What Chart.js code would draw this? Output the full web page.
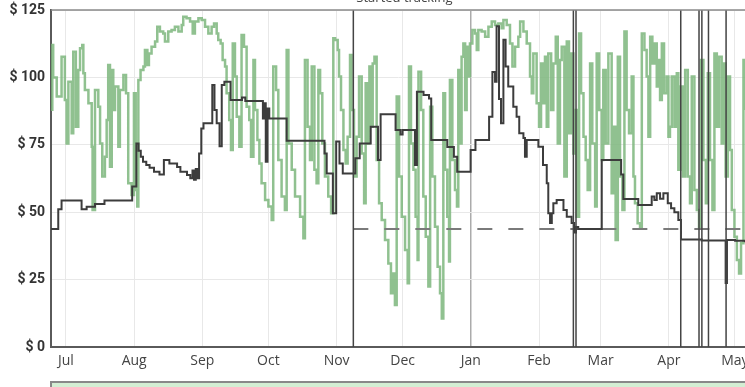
<!DOCTYPE html>
<html>
<head>
<meta charset="utf-8">
<script src="https://cdn.jsdelivr.net/npm/chart.js@4/dist/chart.umd.min.js"></script>
<style>
  html, body { margin: 0; padding: 0; background: #fff; overflow: hidden; }
  #wrap { position: relative; width: 745px; height: 387px; }
  #legend-box {
    position: absolute; left: 50px; top: 381px; width: 720px; height: 20px;
    background: #d3eed3; border: 2px solid #888; box-sizing: border-box;
  }
</style>
</head>
<body>
<div id="wrap">
  <canvas id="chart-price" width="745" height="378"></canvas>
  <div id="legend-box"></div>
</div>
<script>
// x values are days counted from Jul 1
const monthStarts = [0, 31, 62, 92, 123, 153, 184, 215, 243, 274, 304];
const monthLabels = ['Jul', 'Aug', 'Sep', 'Oct', 'Nov', 'Dec', 'Jan', 'Feb', 'Mar', 'Apr', 'May'];
const yearStart = 184;
const dayMin = -6.8;
const dayMax = 308.6;

const priceTicks = [0, 25, 50, 75, 100, 125];

const trackingStart = 130.6;
const trackingLabel = 'Started tracking';
const referencePrice = 43.8;

const markerDays = [230.6, 231.8, 279.4, 287.7, 289.0, 292.0, 300.0];

// green price history [day, $]
const greenHistory = [
  [-6.8, 88], [-6.2, 112], [-5.8, 100], [-4.2, 92.9], [-2.0, 107.7], [-0.5, 91.6], [0.3, 75.5], [1.1, 98.4],
  [2.6, 79.3], [3.3, 109.5], [4.5, 81.7], [5.6, 102.7], [6.4, 110.8], [7.4, 112.0], [7.9, 101.5], [8.6, 95.3],
  [10.2, 90.4], [11.7, 74.3], [12.1, 50.8], [13.2, 95.3], [14.7, 89.1], [15.5, 75.5], [16.5, 63.2], [17.7, 70.6],
  [18.5, 84.2], [19.2, 104.6], [20.0, 66.9], [20.8, 102.7], [21.5, 87.9], [22.3, 96.6], [23.8, 74.3], [24.5, 95.3],
  [26.1, 100.9], [27.3, 94.1], [28.3, 60.7], [29.8, 56.4], [30.9, 94.1], [31.7, 58.2], [32.4, 52.1], [32.9, 99.0],
  [33.9, 102.7], [35.2, 104.0], [35.9, 110.2], [37.0, 104.6], [37.7, 108.9], [38.9, 111.4], [40.5, 113.3], [41.5, 118.8],
  [42.7, 117.0], [44.2, 116.3], [45.0, 113.3], [46.5, 117.0], [48.0, 117.6], [49.5, 118.8], [51.1, 117.0], [52.6, 119.4],
  [53.3, 122.5], [54.8, 121.9], [56.4, 120.7], [57.6, 116.3], [58.6, 120.7], [60.2, 121.9], [61.7, 121.3], [63.2, 118.8],
  [64.7, 116.3], [66.2, 118.8], [67.3, 120.0], [68.5, 116.3], [69.2, 113.9], [70.3, 112.6], [71.2, 106.5], [72.3, 104.0],
  [73.0, 94.1], [74.2, 84.2], [75.0, 73.1], [75.8, 112.6], [76.8, 100.3], [77.6, 85.4], [78.8, 74.3], [79.8, 115.7],
  [80.9, 111.4], [82.1, 89.1], [83.3, 84.2], [84.1, 70.6], [85.2, 106.5], [85.9, 87.9], [87.0, 76.8], [87.9, 68.1],
  [88.9, 60.7], [90.5, 54.5], [92.0, 52.1], [93.5, 47.1], [94.2, 104.0], [95.5, 95.3], [96.5, 69.4], [98.0, 55.8],
  [99.5, 50.8], [100.3, 110.2], [101.1, 75.5], [102.6, 65.7], [104.1, 55.8], [106.4, 48.3], [107.9, 40.3], [108.6, 106.5],
  [109.8, 81.7], [110.9, 69.4], [111.7, 104.0], [112.9, 65.7], [113.9, 60.7], [114.7, 102.7], [115.5, 94.1], [116.5, 75.5],
  [117.7, 63.2], [119.2, 55.8], [120.5, 49.6], [121.5, 114.5], [122.3, 113.9], [123.5, 110.2], [124.1, 100.3], [125.0, 87.9],
  [126.1, 73.1], [127.1, 68.1], [128.0, 78.0], [129.1, 108.3], [129.8, 87.9], [130.9, 63.2], [132.1, 78.0], [133.2, 100.3],
  [134.4, 71.8], [135.5, 53.3], [136.2, 97.8], [137.1, 75.5], [137.9, 104.0], [138.6, 81.7], [139.4, 105.2], [140.2, 107.7],
  [141.2, 69.4], [142.3, 53.3], [143.5, 47.1], [145.0, 39.7], [146.5, 31.0], [147.7, 19.9], [148.8, 27.3], [149.5, 15.6],
  [150.3, 92.9], [151.4, 63.2], [152.6, 48.3], [154.1, 36.0], [155.3, 23.6], [155.9, 104.0], [156.8, 75.5], [157.9, 65.7],
  [158.9, 48.3], [159.8, 32.3], [160.2, 102.1], [161.4, 87.9], [162.4, 55.8], [163.5, 40.9], [164.7, 22.4], [165.5, 89.1],
  [166.5, 63.2], [167.7, 44.6], [168.9, 29.8], [170.0, 19.9], [170.8, 10.6], [171.5, 94.1], [172.3, 65.7], [173.3, 48.3],
  [174.1, 31.7], [174.5, 99.0], [175.6, 69.4], [176.8, 58.2], [177.7, 52.1], [178.3, 102.7], [179.1, 75.5], [179.8, 107.7],
  [180.6, 112.6], [181.4, 87.9], [182.1, 111.4], [182.9, 100.3], [183.6, 112.6], [184.7, 117.6], [185.9, 116.3], [186.7, 110.2],
  [187.4, 117.6], [188.9, 117.0], [190.5, 115.1], [192.0, 118.8], [193.5, 120.7], [195.0, 119.4], [196.5, 120.0], [198.0, 118.2],
  [198.8, 121.3], [200.3, 119.4], [201.8, 112.6], [202.9, 104.0], [204.1, 111.4], [205.6, 115.1], [206.4, 120.7], [207.9, 117.0],
  [209.4, 112.6], [210.9, 100.3], [211.7, 94.1], [212.4, 108.9], [213.9, 90.4], [215.0, 81.7], [215.9, 105.2], [217.0, 90.4],
  [217.7, 107.7], [218.5, 81.7], [219.2, 108.9], [220.5, 87.9], [221.5, 105.2], [222.6, 115.1], [223.5, 75.5], [224.5, 106.5],
  [225.3, 111.4], [226.5, 63.2], [227.6, 113.3], [228.6, 79.3], [229.5, 108.9], [230.6, 71.8], [231.4, 87.9], [232.1, 48.3],
  [233.2, 116.3], [234.1, 94.1], [235.2, 78.0], [236.2, 69.4], [237.1, 58.2], [238.2, 105.2], [239.2, 75.5], [240.5, 52.1],
  [241.2, 108.9], [242.3, 87.9], [243.5, 69.4], [244.2, 102.7], [245.3, 75.5], [246.5, 108.9], [248.0, 57.0], [248.8, 81.7],
  [249.8, 39.7], [250.8, 107.7], [251.8, 63.2], [252.9, 50.8], [253.8, 117.0], [254.8, 87.9], [255.9, 79.3], [257.1, 100.3],
  [257.9, 63.2], [258.6, 53.3], [259.8, 45.9], [260.9, 44.6], [261.7, 116.3], [262.9, 110.2], [263.9, 100.3], [264.7, 78.0],
  [265.5, 115.1], [266.5, 105.2], [267.4, 112.6], [268.5, 96.6], [269.2, 106.5], [270.0, 91.6], [270.8, 112.6], [271.8, 94.1],
  [273.0, 100.3], [273.8, 78.0], [274.5, 81.7], [275.3, 100.3], [276.5, 81.7], [277.6, 101.5], [278.3, 65.7], [279.4, 96.6],
  [280.3, 63.2], [281.4, 102.7], [282.6, 63.2], [283.6, 53.3], [284.4, 100.3], [285.6, 58.2], [286.7, 50.8], [287.7, 44.6],
  [288.6, 106.5], [289.7, 69.4], [290.8, 53.3], [291.7, 101.5], [292.7, 69.4], [293.8, 50.8], [294.7, 108.9], [295.8, 81.7],
  [296.8, 107.7], [298.0, 75.5], [298.8, 105.2], [299.8, 63.2], [300.8, 100.3], [301.8, 73.1], [302.6, 50.8], [303.8, 40.9],
  [304.9, 32.3], [305.9, 27.3], [306.8, 38.5], [307.9, 106.5], [308.6, 87.9],
];

// dark (stepped) price history [day, $]
const darkHistory = [
  [-6.8, 43.8], [-3.5, 51.1], [-2.0, 54.3], [7.1, 51.1], [9.4, 52.0], [13.2, 53.0], [17.5, 54.3], [30.1, 59.5],
  [32.0, 75.5], [33.0, 72.8], [34.0, 70.6], [35.0, 68.7], [36.5, 67.5], [38.0, 66.5], [40.0, 65.0], [42.5, 64.0],
  [44.5, 69.4], [47.0, 68.1], [50.5, 66.8], [52.0, 65.0], [55.0, 63.8], [56.5, 62.6], [57.5, 65.5], [58.2, 62.0],
  [59.0, 66.0], [59.8, 62.6], [60.5, 71.8], [61.5, 81.0], [62.5, 83.0], [66.5, 97.2], [67.5, 87.9], [68.5, 83.0],
  [69.8, 74.5], [70.8, 97.2], [72.0, 98.4], [74.8, 91.6], [80.0, 92.5], [81.5, 91.2], [89.5, 84.8], [90.2, 90.4],
  [90.8, 68.7], [91.6, 88.5], [92.4, 84.8], [100.3, 76.5], [117.5, 71.8], [118.5, 64.4], [121.3, 49.6], [122.8, 76.2],
  [124.3, 68.1], [125.8, 64.4], [131.5, 70.0], [133.5, 75.5], [138.5, 81.7], [141.8, 69.4], [143.0, 86.3], [149.8, 80.5],
  [152.0, 78.8], [153.0, 80.5], [158.6, 67.5], [159.5, 94.7], [162.5, 93.5], [165.0, 92.2], [166.0, 76.8], [173.3, 74.2],
  [176.3, 70.6], [177.8, 65.0], [183.9, 73.1], [186.1, 76.8], [192.3, 85.4], [193.8, 102], [195.0, 98.4], [195.7, 119],
  [196.8, 92], [197.7, 83], [198.8, 114], [199.8, 104], [201.0, 96.6], [203.3, 89.1], [204.8, 85.4], [206.0, 79.3],
  [207.9, 77.5], [208.6, 70.6], [209.4, 76.8], [214.7, 74.3], [216.8, 67.5], [218.5, 60.7], [219.2, 49.6], [220.0, 46],
  [220.8, 49.6], [221.5, 53.3], [223.0, 54.5], [226.1, 50.8], [227.6, 48.3], [229.8, 46], [231.0, 42.5], [231.8, 44.5],
  [232.8, 43.8], [243.5, 69.4], [252.3, 64], [253.3, 54.9], [260.1, 52.7], [266.2, 55.8], [267.4, 54.5], [268.5, 57],
  [270.0, 55], [271.5, 57], [273.5, 53.3], [275.0, 51.5], [276.5, 50], [278.3, 47.1], [279.5, 39.9], [288.9, 39.5],
  [299.8, 23.7], [300.4, 39.7], [304.1, 39.4], [308.6, 38.9],
];

const COLORS = {
  green: 'rgba(125,182,125,0.85)',
  dark: '#3c3c3c',
  dashed: '#7a7a7a',
  marker: '#444',
  grid: '#e8e8e8',
  yearGrid: '#ababab',
  axis: '#5a5a5a',
  frame: '#8a8a8a',
  tickY: '#333',
  tickX: '#444',
};

const toPoints = rows => rows.map(r => ({ x: r[0], y: r[1] }));

function verticalLines(days) {
  return days.flatMap(d => [
    { x: d, y: priceTicks[0] },
    { x: d, y: priceTicks[priceTicks.length - 1] },
    { x: d, y: null },
  ]);
}

// no extra room for edge labels: plot area runs to the canvas edge
function noEdgePadding(s) {
  s.paddingLeft = 0;
  s.paddingRight = 0;
  s.paddingTop = 0;
  s.paddingBottom = 0;
}

// top frame line + "Started tracking" caption
const framePlugin = {
  id: 'frame',
  afterDraw(chart) {
    const { ctx, chartArea, scales } = chart;
    ctx.save();
    ctx.strokeStyle = COLORS.frame;
    ctx.lineWidth = 1.5;
    ctx.beginPath();
    ctx.moveTo(chartArea.left, chartArea.top);
    ctx.lineTo(chartArea.right, chartArea.top);
    ctx.stroke();

    const x = scales.x.getPixelForValue(trackingStart);
    ctx.fillStyle = '#444';
    ctx.font = '13px "Open Sans"';
    ctx.textAlign = 'left';
    ctx.textBaseline = 'alphabetic';
    ctx.fillText(trackingLabel, x + 3, 2);
    ctx.restore();
  },
};

const ctx = document.getElementById('chart-price').getContext('2d');
new Chart(ctx, {
  type: 'line',
  data: {
    datasets: [
      {
        label: 'markers',
        data: verticalLines(markerDays),
        borderColor: COLORS.marker,
        borderWidth: 1.5,
        pointRadius: 0,
        spanGaps: false,
        order: 0,
      },
      {
        label: 'tracking',
        data: verticalLines([trackingStart]),
        borderColor: COLORS.marker,
        borderWidth: 1.5,
        pointRadius: 0,
        spanGaps: false,
        order: 1,
      },
      {
        label: 'dark',
        data: toPoints(darkHistory),
        borderColor: COLORS.dark,
        borderWidth: 2,
        pointRadius: 0,
        stepped: true,
        order: 2,
      },
      {
        label: 'reference',
        data: [{ x: trackingStart, y: referencePrice }, { x: dayMax, y: referencePrice }],
        borderColor: COLORS.dashed,
        borderWidth: 2,
        borderDash: [15, 16],
        pointRadius: 0,
        order: 3,
      },
      {
        label: 'green',
        data: toPoints(greenHistory),
        borderColor: COLORS.green,
        borderWidth: 2.5,
        pointRadius: 0,
        stepped: true,
        order: 4,
      },
    ],
  },
  options: {
    responsive: false,
    animation: false,
    events: [],
    layout: { padding: { top: 10, right: 0, left: 0, bottom: 0 } },
    plugins: {
      legend: { display: false },
      tooltip: { enabled: false },
    },
    scales: {
      x: {
        type: 'linear',
        min: dayMin,
        max: dayMax,
        afterFit: s => { s.height = 31; noEdgePadding(s); },
        afterBuildTicks: s => { s.ticks = monthStarts.map(v => ({ value: v })); },
        ticks: {
          autoSkip: false,
          maxRotation: 0,
          padding: 6,
          color: COLORS.tickX,
          font: { family: '"Open Sans"', size: 14 },
          callback: (v, i) => monthLabels[i],
        },
        grid: {
          drawTicks: false,
          color: c => (c.tick && c.tick.value === yearStart ? COLORS.yearGrid : COLORS.grid),
          lineWidth: c => (c.tick && c.tick.value === yearStart ? 1.5 : 1),
        },
        border: { color: COLORS.axis, width: 2 },
      },
      y: {
        min: 0,
        max: 125,
        afterFit: s => { s.width = 51; noEdgePadding(s); },
        afterBuildTicks: s => { s.ticks = priceTicks.map(v => ({ value: v })); },
        ticks: {
          padding: 6,
          color: COLORS.tickY,
          font: { family: 'Roboto', size: 14, weight: 'bold' },
          callback: v => '$ ' + v,
        },
        grid: { drawTicks: false, color: COLORS.grid },
        border: { color: COLORS.axis, width: 2 },
      },
    },
  },
  plugins: [framePlugin],
});
</script>
</body>
</html>
